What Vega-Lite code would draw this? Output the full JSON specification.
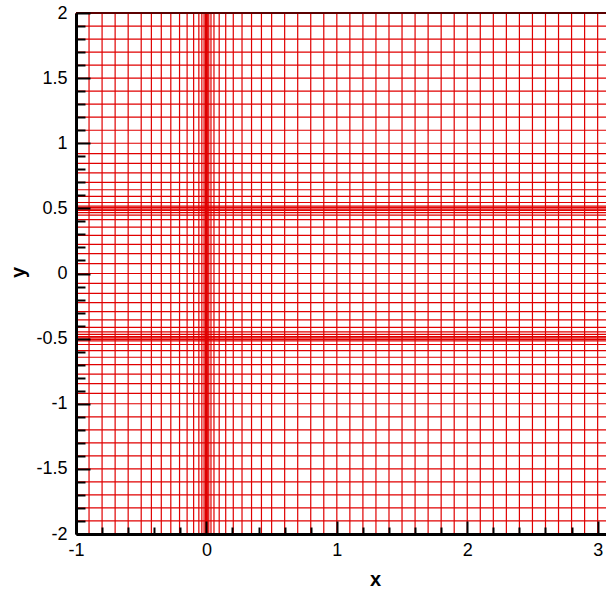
{
  "$schema": "https://vega.github.io/schema/vega-lite/v6.json",
  "width": 530,
  "height": 521,
  "autosize": "none",
  "padding": {"left": 76, "top": 13, "right": 0, "bottom": 55},
  "background": "white",
  "config": {"view": {"stroke": null}},
  "datasets": {
    "xs": [
      {"x": -1.0}, {"x": -0.9}, {"x": -0.8}, {"x": -0.7}, {"x": -0.6}, {"x": -0.5},
      {"x": -0.422}, {"x": -0.346}, {"x": -0.273}, {"x": -0.206}, {"x": -0.148}, {"x": -0.098},
      {"x": -0.058}, {"x": -0.035}, {"x": -0.018}, {"x": -0.007}, {"x": 0.0}, {"x": 0.007},
      {"x": 0.018}, {"x": 0.035}, {"x": 0.058}, {"x": 0.098}, {"x": 0.148}, {"x": 0.206},
      {"x": 0.273}, {"x": 0.346}, {"x": 0.422}, {"x": 0.5}, {"x": 0.6}, {"x": 0.7},
      {"x": 0.8}, {"x": 0.9}, {"x": 1.0}, {"x": 1.1}, {"x": 1.2}, {"x": 1.3}, {"x": 1.4},
      {"x": 1.5}, {"x": 1.6}, {"x": 1.7}, {"x": 1.8}, {"x": 1.9}, {"x": 2.0}, {"x": 2.1},
      {"x": 2.2}, {"x": 2.3}, {"x": 2.4}, {"x": 2.5}, {"x": 2.6}, {"x": 2.7}, {"x": 2.8},
      {"x": 2.9}, {"x": 3.0}
    ],
    "ys": [
      {"y": -2.0}, {"y": -1.9}, {"y": -1.8}, {"y": -1.7}, {"y": -1.6}, {"y": -1.5},
      {"y": -1.4}, {"y": -1.3}, {"y": -1.2}, {"y": -1.1}, {"y": -1.0}, {"y": -0.92},
      {"y": -0.845}, {"y": -0.772}, {"y": -0.70}, {"y": -0.643}, {"y": -0.592}, {"y": -0.545},
      {"y": -0.518}, {"y": -0.505}, {"y": -0.495}, {"y": -0.484}, {"y": -0.468}, {"y": -0.448},
      {"y": -0.413}, {"y": -0.356}, {"y": -0.292}, {"y": -0.224}, {"y": -0.152}, {"y": -0.076},
      {"y": 0.0}, {"y": 0.076}, {"y": 0.152}, {"y": 0.224}, {"y": 0.292}, {"y": 0.356},
      {"y": 0.413}, {"y": 0.448}, {"y": 0.468}, {"y": 0.484}, {"y": 0.495}, {"y": 0.505},
      {"y": 0.518}, {"y": 0.545}, {"y": 0.592}, {"y": 0.643}, {"y": 0.70}, {"y": 0.772},
      {"y": 0.845}, {"y": 0.92}, {"y": 1.0}, {"y": 1.1}, {"y": 1.2}, {"y": 1.3}, {"y": 1.4},
      {"y": 1.5}, {"y": 1.6}, {"y": 1.7}, {"y": 1.8}, {"y": 1.9}
    ],
    "frame": [{"y": 2.0}]
  },
  "resolve": {"axis": {"x": "independent", "y": "independent"}},
  "layer": [
    {
      "data": {"name": "xs"},
      "mark": {"type": "rule", "color": "#e00000", "strokeWidth": 1.2},
      "encoding": {
        "x": {
          "field": "x",
          "type": "quantitative",
          "scale": {"domain": [-1, 3.064], "nice": false, "zero": false},
          "axis": {
            "orient": "bottom",
            "title": "x",
            "titleFont": "Liberation Sans",
            "titleFontSize": 20,
            "titleFontWeight": "bold",
            "titleColor": "black",
            "titleX": 299,
            "titleY": 45,
            "titleBaseline": "middle",
            "values": [-1, 0, 1, 2, 3],
            "labelExpr": "'' + round(datum.value)",
            "labelFont": "Liberation Sans",
            "labelFontSize": 18,
            "labelColor": "black",
            "labelPadding": 20,
            "labelFlush": false,
            "labelOverlap": false,
            "domainColor": "black",
            "domainWidth": 3,
            "tickColor": "black",
            "tickWidth": 2,
            "tickSize": -13,
            "grid": false,
            "zindex": 1
          }
        }
      }
    },
    {
      "data": {"name": "ys"},
      "mark": {"type": "rule", "color": "#e00000", "strokeWidth": 1.2},
      "encoding": {
        "y": {
          "field": "y",
          "type": "quantitative",
          "scale": {"domain": [-2, 2], "nice": false, "zero": false},
          "axis": {
            "orient": "left",
            "title": "y",
            "titleFont": "Liberation Sans",
            "titleFontSize": 20,
            "titleFontWeight": "bold",
            "titleColor": "black",
            "titleX": -58,
            "titleY": 259,
            "titleAngle": -90,
            "titleBaseline": "middle",
            "values": [-2, -1.5, -1, -0.5, 0, 0.5, 1, 1.5, 2],
            "labelExpr": "'' + datum.value",
            "labelFont": "Liberation Sans",
            "labelFontSize": 18,
            "labelColor": "black",
            "labelPadding": 23,
            "labelFlush": false,
            "labelOverlap": false,
            "domainColor": "black",
            "domainWidth": 3,
            "tickColor": "black",
            "tickWidth": 2,
            "tickSize": -14,
            "grid": false,
            "zindex": 1
          }
        }
      }
    },
    {
      "data": {"name": "xs"},
      "mark": {"type": "rule", "opacity": 0},
      "encoding": {
        "x": {
          "field": "x",
          "type": "quantitative",
          "axis": {
            "orient": "bottom",
            "title": null,
            "values": [-0.8, -0.6, -0.4, -0.2, 0.2, 0.4, 0.6, 0.8, 1.2, 1.4, 1.6, 1.8, 2.2, 2.4, 2.6, 2.8],
            "labels": false,
            "domain": false,
            "tickColor": "black",
            "tickWidth": 2,
            "tickSize": -7,
            "grid": false,
            "zindex": 1
          }
        }
      }
    },
    {
      "data": {"name": "ys"},
      "mark": {"type": "rule", "opacity": 0},
      "encoding": {
        "y": {
          "field": "y",
          "type": "quantitative",
          "axis": {
            "orient": "left",
            "title": null,
            "values": [-1.9, -1.8, -1.7, -1.6, -1.4, -1.3, -1.2, -1.1, -0.9, -0.8, -0.7, -0.6, -0.4, -0.3, -0.2, -0.1, 0.1, 0.2, 0.3, 0.4, 0.6, 0.7, 0.8, 0.9, 1.1, 1.2, 1.3, 1.4, 1.6, 1.7, 1.8, 1.9],
            "labels": false,
            "domain": false,
            "tickColor": "black",
            "tickWidth": 2,
            "tickSize": -9,
            "grid": false,
            "zindex": 1
          }
        }
      }
    },
    {
      "data": {"name": "frame"},
      "mark": {"type": "rule", "color": "#5a0000", "strokeWidth": 2},
      "encoding": {"y": {"field": "y", "type": "quantitative"}}
    }
  ]
}
